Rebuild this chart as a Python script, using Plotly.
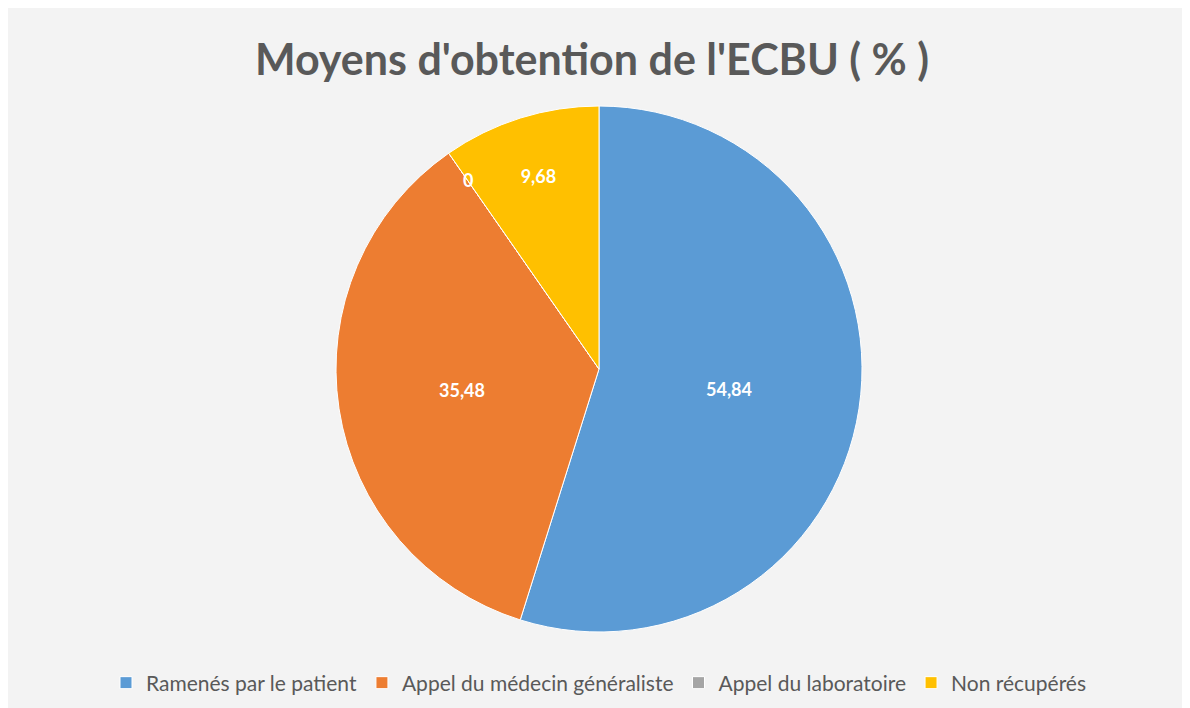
import math

import plotly.graph_objects as go

# Données
categories = ["Ramenés par le patient", "Appel du médecin généraliste",
              "Appel du laboratoire", "Non récupérés"]
values = [54.84, 35.48, 0, 9.68]
colors = ["#5B9BD5", "#ED7D31", "#A5A5A5", "#FFC000"]

# Étiquettes au format français (virgule décimale)
labels_txt = [f"{v:g}".replace(".", ",") for v in values]

FONT = "Lato"
GREY = "#595959"
W, H = 1190, 708
M = dict(l=0, r=8, t=98, b=84)

fig = go.Figure(go.Pie(
    labels=categories,
    values=values,
    text=labels_txt,
    texttemplate="<b>%{text}</b>",
    textposition="inside",
    insidetextorientation="horizontal",
    textfont=dict(family=FONT, size=18, color="white"),
    marker=dict(colors=colors, line=dict(color="white", width=1)),
    sort=False,
    direction="clockwise",
    rotation=0,
    hoverinfo="label+value",
))

# Plotly masque le texte des parts nulles : on place l'étiquette « 0 »
# sur la frontière correspondante, calculée à partir des données.
total = sum(values)
plot_w = W - M["l"] - M["r"]
plot_h = H - M["t"] - M["b"]
radius = min(plot_w, plot_h) / 2
cum = 0
for v, txt in zip(values, labels_txt):
    if v == 0:
        theta = 2 * math.pi * cum / total
        rr = 0.875 * radius
        fig.add_annotation(
            x=0.5 + rr * math.sin(theta) / plot_w,
            y=0.5 + rr * math.cos(theta) / plot_h,
            xref="paper", yref="paper", showarrow=False,
            xanchor="center", yanchor="middle",
            text=f"<b>{txt}</b>",
            font=dict(family=FONT, size=18, color="white"),
        )
    cum += v

fig.update_layout(
    width=W, height=H,
    margin=M,
    paper_bgcolor="#f3f3f3",
    title=dict(text="<b>Moyens d'obtention de l'ECBU ( % )</b>",
               x=584 / W, xanchor="center", y=1 - 52 / H, yanchor="middle",
               font=dict(family=FONT, size=43, color=GREY)),
    legend=dict(orientation="h", x=0.5, xanchor="center", y=-51 / plot_h, yanchor="middle",
                font=dict(family=FONT, size=21, color=GREY),
                itemclick=False, traceorder="normal"),
    showlegend=True,
)

fig.write_html("out.html")
